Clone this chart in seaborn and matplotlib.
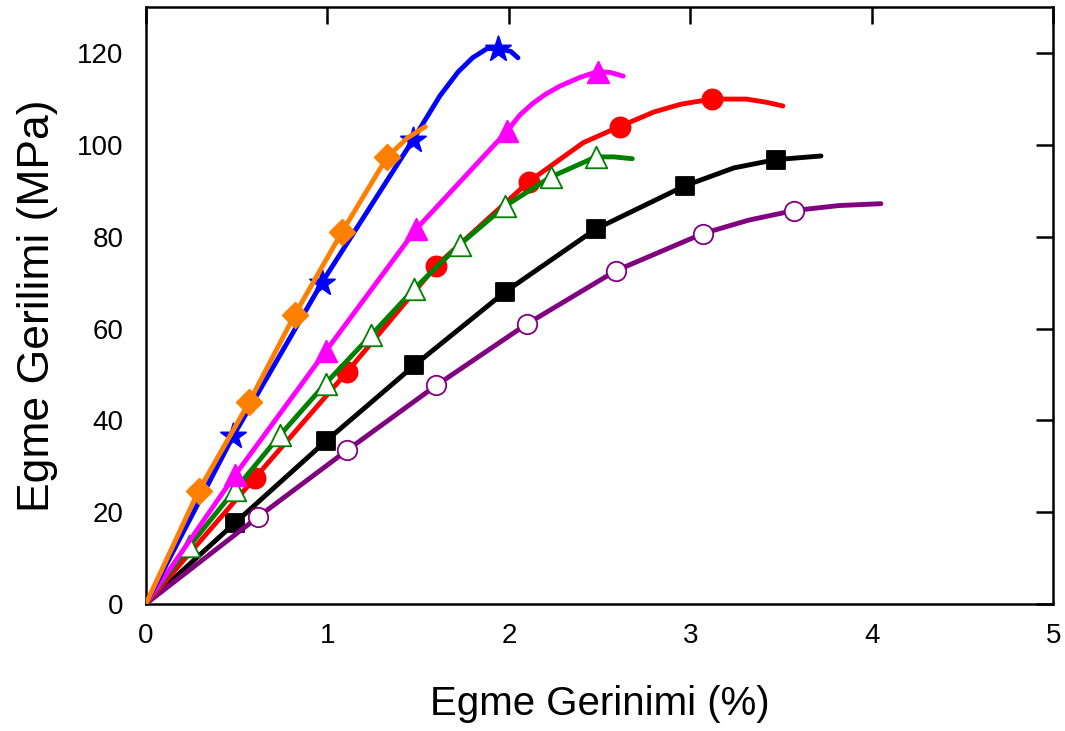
import matplotlib
matplotlib.use("Agg")
import matplotlib.pyplot as plt
import seaborn as sns
import numpy as np

sns.set_style("white")
plt.rcParams['font.family'] = ['Liberation Sans', 'DejaVu Sans']
plt.rcParams['text.color'] = 'black'
plt.rcParams['axes.labelcolor'] = 'black'
plt.rcParams['xtick.color'] = 'black'
plt.rcParams['ytick.color'] = 'black'

# ---- data ----
# marker points (strain %, stress MPa) and extra curve points (origin, bends, ends)
orange_mx = [0.29, 0.57, 0.82, 1.08, 1.33]
orange_my = [24.6, 44.0, 63.0, 81.0, 97.4]
orange_cx = [0.0, 1.44, 1.54]
orange_cy = [0.0, 101.5, 104.0]

blue_mx = [0.48, 0.97, 1.47, 1.94]
blue_my = [36.5, 70.0, 101.0, 121.0]
blue_cx = [0.0, 1.62, 1.72, 1.80, 1.88, 2.01, 2.05]
blue_cy = [0.0, 110.7, 115.9, 119.0, 121.0, 120.4, 119.0]

magenta_mx = [0.49, 0.99, 1.49, 1.99, 2.49]
magenta_my = [28.0, 55.0, 81.7, 103.0, 116.0]
magenta_cx = [0.0, 2.06, 2.13, 2.20, 2.28, 2.39, 2.56, 2.63]
magenta_cy = [0.0, 106.5, 109.0, 111.0, 112.8, 114.7, 115.8, 115.0]

red_mx = [0.60, 1.11, 1.60, 2.11, 2.61, 3.12]
red_my = [27.4, 50.6, 73.7, 92.0, 104.0, 110.0]
red_cx = [0.0, 2.41, 2.80, 2.95, 3.31, 3.42, 3.51]
red_cy = [0.0, 100.5, 107.2, 108.9, 110.0, 109.3, 108.5]

green_mx = [0.24, 0.49, 0.74, 0.99, 1.24, 1.48, 1.73, 1.98, 2.23, 2.48]
green_my = [12.6, 24.8, 36.8, 48.0, 58.5, 68.7, 78.3, 86.7, 93.0, 97.4]
green_cx = [0.0, 2.58, 2.68]
green_cy = [0.0, 97.4, 97.0]

black_mx = [0.49, 0.99, 1.48, 1.98, 2.48, 2.97, 3.47]
black_my = [17.6, 35.4, 52.0, 68.0, 81.7, 91.1, 96.8]
black_cx = [0.0, 3.24, 3.72]
black_cy = [0.0, 95.0, 97.6]

purple_mx = [0.62, 1.11, 1.60, 2.10, 2.59, 3.07, 3.57]
purple_my = [19.0, 33.5, 47.6, 61.0, 72.6, 80.7, 85.7]
purple_cx = [0.0, 3.32, 3.82, 4.05]
purple_cy = [0.0, 83.6, 86.8, 87.2]

x_ticks = [0, 1, 2, 3, 4, 5]
y_ticks = [0, 20, 40, 60, 80, 100, 120]
x_label = "Egme Gerinimi (%)"
y_label = "Egme Gerilimi (MPa)"

# ---- drawing ----
fig = plt.figure(figsize=(10.65, 7.31), dpi=100)
ax = fig.add_axes([0.137, 0.174, 0.852, 0.816])

series = [
    # (mx, my, cx, cy, color, marker, face, size)
    (black_mx, black_my, black_cx, black_cy, "black", "s", "black", 13.5),
    (purple_mx, purple_my, purple_cx, purple_cy, "#800080", "o", "white", 14),
    (red_mx, red_my, red_cx, red_cy, "#ff0000", "o", "#ff0000", 14.5),
    (green_mx, green_my, green_cx, green_cy, "#008000", "^", "white", 15.5),
    (magenta_mx, magenta_my, magenta_cx, magenta_cy, "#ff00ff", "^", "#ff00ff", 15.5),
    (blue_mx, blue_my, blue_cx, blue_cy, "#0000ff", "*", "#0000ff", 19),
    (orange_mx, orange_my, orange_cx, orange_cy, "#ff8000", "D", "#ff8000", 13),
]

for i, (mx, my, cx, cy, col, mk, face, ms) in enumerate(series):
    xs = np.array(mx + cx)
    ys = np.array(my + cy)
    order = np.argsort(xs)
    xs, ys = xs[order], ys[order]
    sns.lineplot(x=xs, y=ys, sort=False, estimator=None, color=col,
                 linewidth=3.5, ax=ax, zorder=2 + i)
    sns.scatterplot(x=mx, y=my, marker=mk, s=ms ** 2, color=face,
                    edgecolor=col, linewidth=1.3, ax=ax, zorder=3 + i)

ax.set_xlim(0, 5)
ax.set_ylim(0, 130)
ax.set_xticks(x_ticks)
ax.set_yticks(y_ticks)
ax.set_xticklabels([str(v) for v in x_ticks])
ax.set_yticklabels([str(v) for v in y_ticks])
ax.tick_params(axis="both", direction="in", length=12, width=1.8,
               labelsize=20, top=True, right=True, colors="black")
ax.tick_params(axis="y", pad=16)
ax.tick_params(axis="x", pad=14)
for s in ax.spines.values():
    s.set_visible(True)
    s.set_color("black")
    s.set_linewidth(1.8)
ax.set_xlabel(x_label, fontsize=29, labelpad=26)
ax.set_ylabel(y_label, fontsize=32, labelpad=14)
ax.grid(False)

fig.savefig("out.png", dpi=100)
